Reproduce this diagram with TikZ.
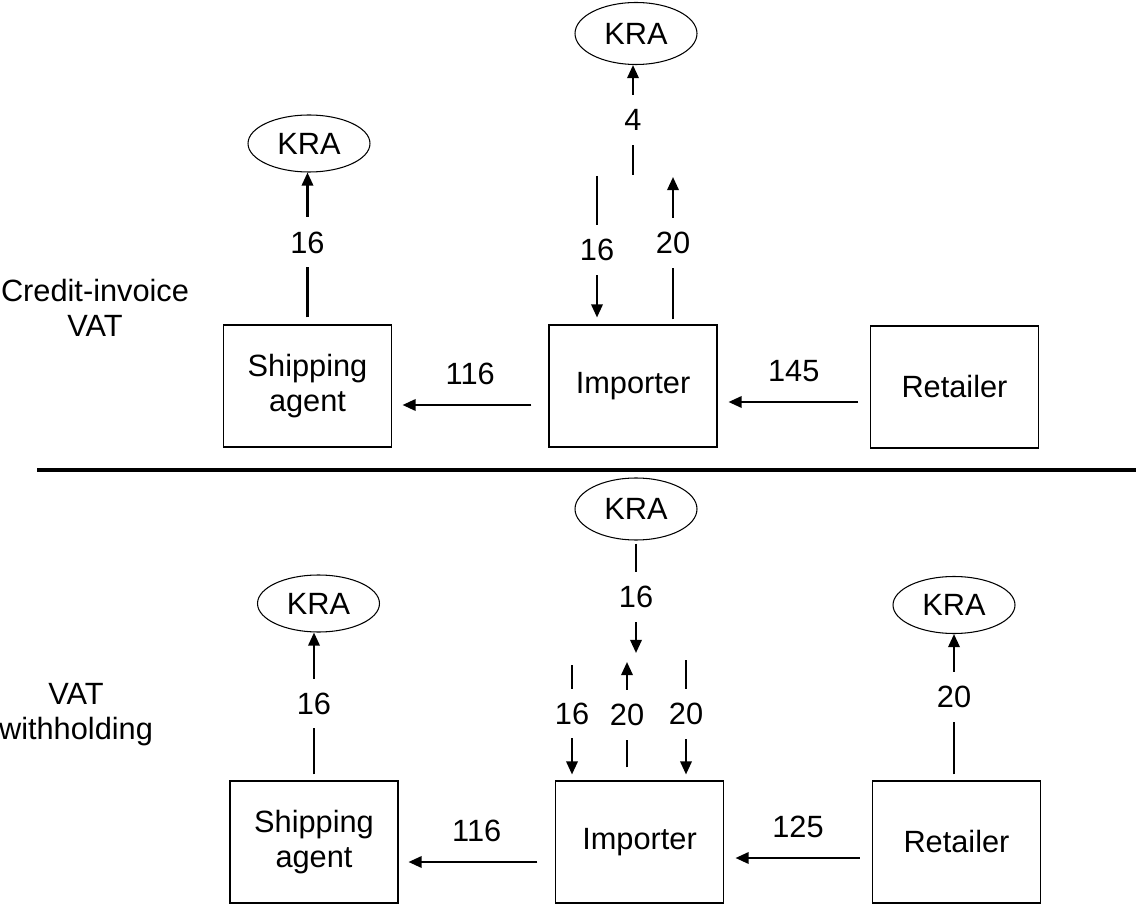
\documentclass[tikz,border=0pt]{standalone}
\usepackage{fontspec}
\setmainfont{Liberation Sans}
\usetikzlibrary{calc,positioning,arrows.meta,shapes.geometric}
\tikzset{box/.style={draw,line width=0.6pt,minimum width=3.36cm,minimum height=2.44cm,
inner sep=0pt,align=center},kra/.style={draw,ellipse,line width=0.6pt,minimum width=2.44cm,
minimum height=1.14cm,inner sep=0pt},amt/.style={fill=white,inner xsep=2pt,inner ysep=8pt},
amtup/.style={above=11pt,inner sep=0pt}}
\tikzstyle{flow} = [line width=1.3pt,-{Triangle[length=7.5pt,width=6.5pt]}]

\begin{document}
\begin{tikzpicture}[x=0.02cm,y=-0.02cm,font=\fontsize{17.5}{20}\selectfont]
		\useasboundingbox (0,0) rectangle (1136,905);
		\node[align=center] (cred) at (95,308) {Credit-invoice\\VAT};
		\node[align=center] (with) at (76,715) {VAT\\withholding};
		\draw[line width=2.8pt] (37,470) -- (1136,470);

		\node[box] (ship1) at (307.5,386) {Shipping\\agent};
		\node[box] (imp1) at (633,386) {Importer};
		\node[box] (ret1) at (954.5,387) {Retailer};
		\node[kra] (kra1) at (309,143.5) {KRA};
		\node[kra,minimum height=1.24cm] (kra2) at (636,33.5) {KRA};
		\coordinate (t16) at (597,176);
		\coordinate (t4) at (633,175);
		\coordinate (t20) at (673,177);

		\draw[flow,shorten <=0.14cm] (ship1.north) -- node[amt,pos=0.54]{16} (ship1.north |- kra1.south);
		\draw[flow] (t4) -- node[amt]{4} (t4 |- kra2.south);
		\draw[flow,shorten >=0.14cm] (t16) -- node[amt]{16} (t16 |- imp1.north);
		\draw[flow,shorten <=0.1cm] (t20 |- imp1.north) -- node[amt,pos=0.55]{20} (t20);
		\draw[flow,shorten <=0.34cm,shorten >=0.21cm] ($(imp1.west)+(0,19)$) -- node[amtup]{116} ($(ship1.east)+(0,19)$);
		\draw[flow,shorten <=0.24cm,shorten >=0.22cm] ($(ret1.west)+(0,15)$) -- node[amtup]{145} ($(imp1.east)+(0,16)$);

		\node[box] (ship2) at (314,842) {Shipping\\agent};
		\node[box] (imp2) at (639.5,842) {Importer};
		\node[box] (ret2) at (956.5,842) {Retailer};
		\node[kra] (kra3) at (318.5,603.5) {KRA};
		\node[kra,minimum height=1.24cm] (kra4) at (636,509) {KRA};
		\node[kra] (kra5) at (954,605) {KRA};
		\coordinate (b16) at (636,653);
		\coordinate (b16l) at (572,665);
		\coordinate (b20u) at (627,662);
		\coordinate (b20d) at (686,660);

		\draw[flow,shorten <=0.12cm] (ship2.north) -- node[amt,pos=0.52]{16} (ship2.north |- kra3.south);
		\draw[flow,shorten <=0.06cm] (kra4.south) -- node[amt]{16} (b16);
		\draw[flow,shorten >=0.12cm] (b16l) -- node[amt,pos=0.42]{16} (b16l |- imp2.north);
		\draw[flow,shorten <=0.26cm] (b20u |- imp2.north) -- node[amt,pos=0.55]{20} (b20u);
		\draw[flow,shorten >=0.12cm] (b20d) -- node[amt,pos=0.45]{20} (b20d |- imp2.north);
		\draw[flow,shorten <=0.12cm] (kra5.south |- ret2.north) -- node[amt,pos=0.57]{20} (kra5.south);
		\draw[flow,shorten <=0.35cm,shorten >=0.2cm] ($(imp2.west)+(0,20)$) -- node[amtup]{116} ($(ship2.east)+(0,20)$);
		\draw[flow,shorten <=0.25cm,shorten >=0.23cm] ($(ret2.west)+(0,16)$) -- node[amtup]{125} ($(imp2.east)+(0,16)$);
	\end{tikzpicture}
\end{document}
